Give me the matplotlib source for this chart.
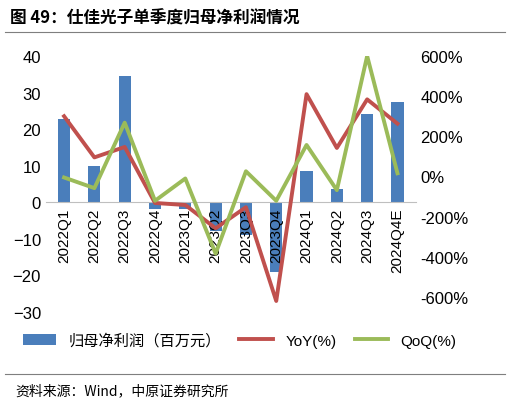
import matplotlib
matplotlib.use("Agg")
import matplotlib.pyplot as plt
import numpy as np
plt.rcParams['font.family'] = ['Liberation Sans', 'Noto Sans CJK SC', 'DejaVu Sans']

quarters = ['2022Q1','2022Q2','2022Q3','2022Q4','2023Q1','2023Q2','2023Q3','2023Q4','2024Q1','2024Q2','2024Q3','2024Q4E']
profit = [22.8, 10.0, 34.5, -2.0, -2.0, -8.0, -9.0, -19.0, 8.5, 3.5, 24.0, 27.5]
yoy = [300, 95, 147, -132, -142, -258, -153, -620, 410, 142, 384, 263]
qoq = [-5, -58, 268, -121, -10, -384, 26, -121, 157, -68, 600, 16]

fig = plt.figure(figsize=(5.1, 4.1), dpi=100)
ax = fig.add_axes([0.09, 0.237, 0.725, 0.624])
x = np.arange(len(quarters))
b = ax.bar(x, profit, width=0.4, color='#4a7ebb', label='归母净利润（百万元）')
ax.set_ylim(-30, 40)
ax.set_yticks(range(-30, 41, 10))
ax.set_xlim(-0.6, len(x) - 0.4)
ax.spines['bottom'].set_position(('data', 0))
ax.spines['bottom'].set_color('#bfbfbf')
for s in ['top', 'right', 'left']:
    ax.spines[s].set_visible(False)
ax.set_xticks(x)
ax.set_xticklabels(quarters, rotation=90, fontsize=11)
ax.tick_params(axis='x', length=0, pad=4)
ax.tick_params(axis='y', length=0, labelsize=12)
ax2 = ax.twinx()
l1, = ax2.plot(x, yoy, color='#c0504d', lw=2.8, label='YoY(%)')
l2, = ax2.plot(x, qoq, color='#9bbb59', lw=2.8, label='QoQ(%)')
ax2.set_ylim(-674, 600)
ax2.set_yticks(range(-600, 601, 200))
ax2.set_yticklabels([f'{v}%' for v in range(-600, 601, 200)])
ax2.tick_params(axis='y', length=0, labelsize=12)
for s in ax2.spines.values():
    s.set_visible(False)
fig.legend(handles=[b, l1, l2], loc='center', bbox_to_anchor=(0.47, 0.168), ncol=3, frameon=False,
           fontsize=11, handlelength=2.2, columnspacing=1.2)
fig.text(0.02, 0.955, '图 49：仕佳光子单季度归母净利润情况', fontsize=12, weight='bold', va='center',
         family=['Noto Sans CJK SC', 'DejaVu Sans'])
fig.add_artist(plt.Line2D([0.01, 0.99], [0.92, 0.92], color='#7f7f7f', lw=0.8))
fig.add_artist(plt.Line2D([0.01, 0.99], [0.085, 0.085], color='#7f7f7f', lw=0.8))
fig.text(0.03, 0.045, '资料来源：Wind，中原证券研究所', fontsize=10, va='center',
         family=['Noto Sans CJK SC', 'DejaVu Sans'])
fig.savefig('out.png', dpi=100)
